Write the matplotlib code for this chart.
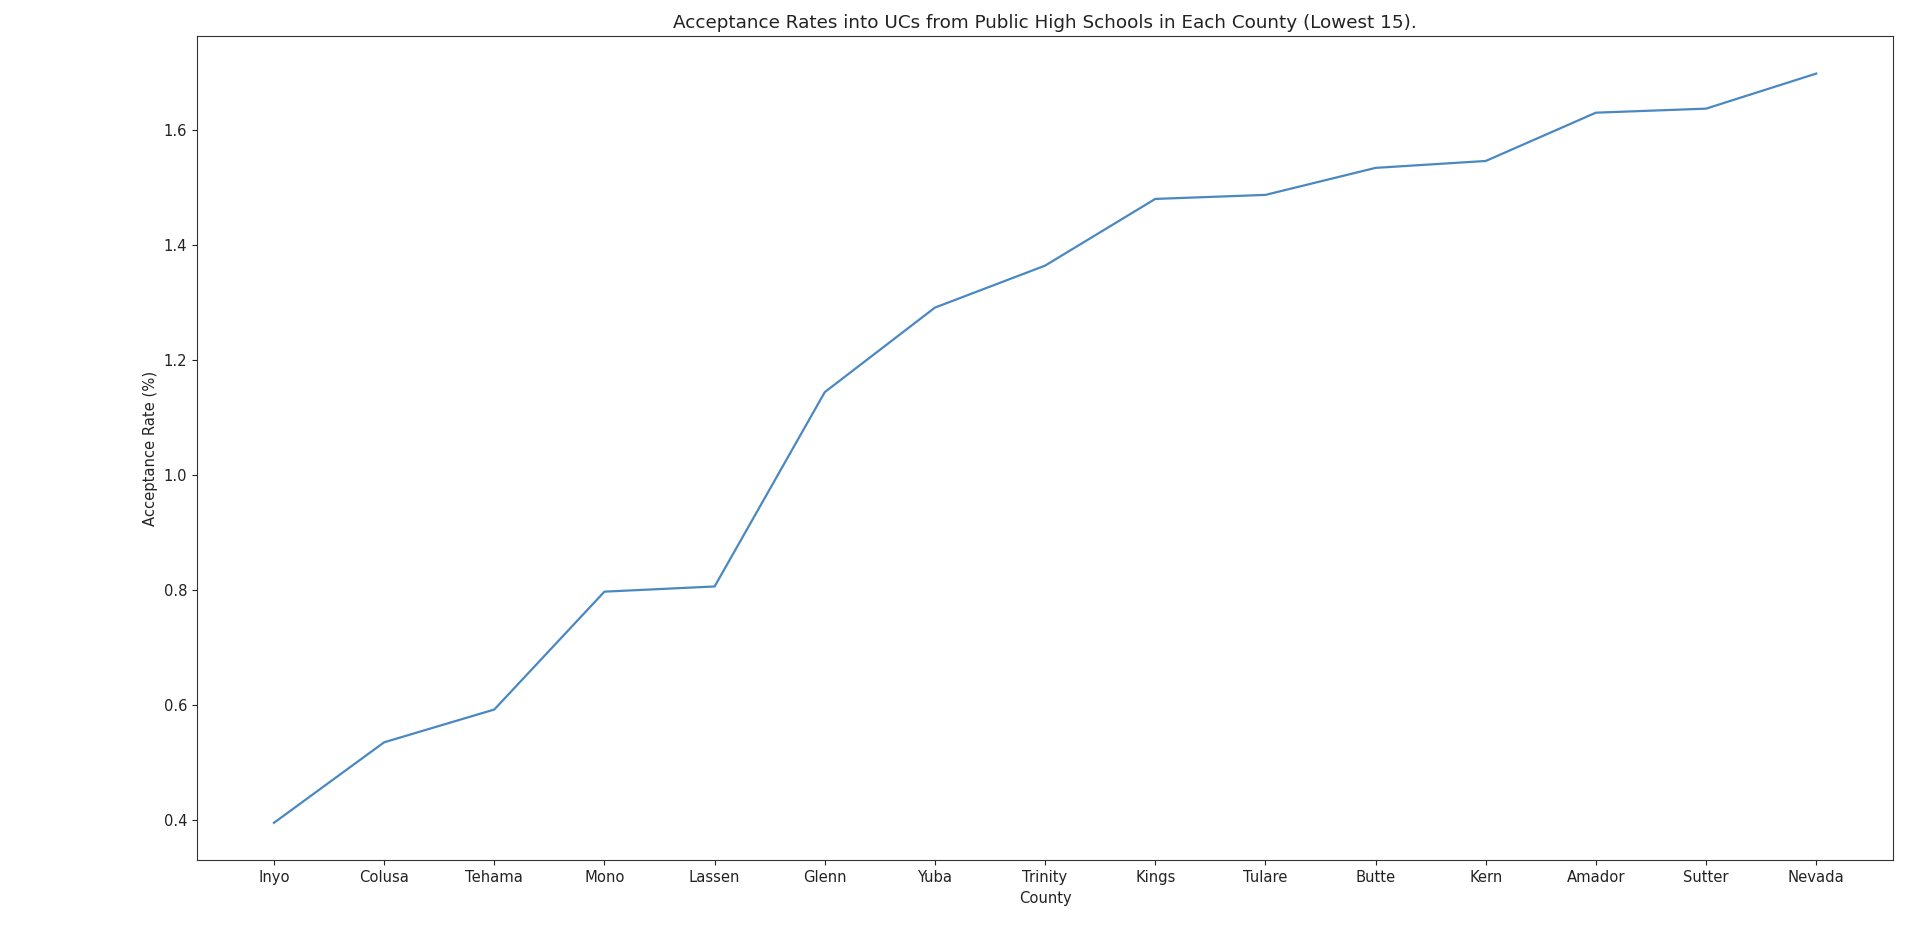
import matplotlib
matplotlib.use("Agg")
import matplotlib.pyplot as plt

counties = ["Inyo", "Colusa", "Tehama", "Mono", "Lassen", "Glenn", "Yuba",
            "Trinity", "Kings", "Tulare", "Butte", "Kern", "Amador", "Sutter",
            "Nevada"]
rates = [0.395, 0.535, 0.592, 0.797, 0.806, 1.144, 1.291,
         1.364, 1.480, 1.487, 1.534, 1.546, 1.630, 1.637, 1.698]

plt.rcParams["font.size"] = 10.6
plt.rcParams["text.color"] = "#222222"
plt.rcParams["axes.labelcolor"] = "#222222"
plt.rcParams["xtick.color"] = "#222222"
plt.rcParams["ytick.color"] = "#222222"
plt.rcParams["axes.edgecolor"] = "#333333"

fig = plt.figure(figsize=(19.3, 9.26), dpi=100)
ax = fig.add_axes([0.102, 0.071, 0.879, 0.890])

ax.plot(counties, rates, color="#4a88c2", linewidth=1.6)
ax.set_title("Acceptance Rates into UCs from Public High Schools in Each County (Lowest 15).",
             fontsize=13.2)
ax.set_xlabel("County")
ax.set_ylabel("Acceptance Rate (%)")

fig.savefig("out.png", dpi=100)
